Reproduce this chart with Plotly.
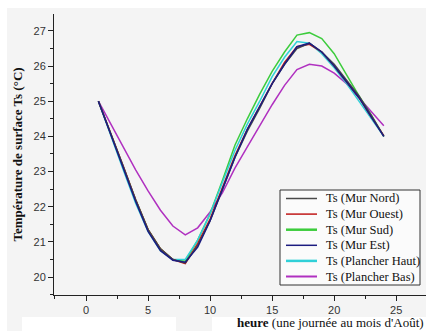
import plotly.graph_objects as go

heures = list(range(1, 25))
nord = [25.0, 24.1, 23.15, 22.2, 21.35, 20.8, 20.5, 20.4, 20.9, 21.6, 22.5, 23.4,
        24.15, 24.8, 25.5, 26.05, 26.5, 26.65, 26.4, 26.05, 25.6, 25.15, 24.6, 24.0]
ouest = [25.0, 24.1, 23.15, 22.2, 21.35, 20.8, 20.5, 20.38, 20.95, 21.65, 22.55, 23.45,
         24.2, 24.85, 25.5, 26.1, 26.55, 26.62, 26.4, 26.0, 25.55, 25.1, 24.55, 24.02]
sud = [25.0, 24.05, 23.1, 22.2, 21.35, 20.8, 20.5, 20.45, 21.05, 21.8, 22.75, 23.75,
       24.5, 25.2, 25.85, 26.4, 26.88, 26.95, 26.78, 26.35, 25.75, 25.15, 24.6, 24.0]
est = [25.0, 24.05, 23.1, 22.15, 21.3, 20.75, 20.48, 20.42, 20.85, 21.6, 22.5, 23.4,
       24.2, 24.85, 25.5, 26.05, 26.55, 26.65, 26.4, 26.0, 25.55, 25.1, 24.55, 24.0]
haut = [25.0, 24.0, 23.05, 22.1, 21.3, 20.75, 20.5, 20.5, 21.05, 21.8, 22.7, 23.6,
        24.35, 25.0, 25.7, 26.25, 26.7, 26.65, 26.35, 25.95, 25.5, 25.0, 24.5, 24.0]
bas = [25.0, 24.35, 23.7, 23.05, 22.45, 21.9, 21.45, 21.2, 21.4, 21.85, 22.4, 23.1,
       23.7, 24.3, 24.9, 25.45, 25.9, 26.05, 26.0, 25.8, 25.5, 25.1, 24.7, 24.3]

names = ["Ts (Mur Nord)", "Ts (Mur Ouest)", "Ts (Mur Sud)", "Ts (Mur Est)",
         "Ts (Plancher Haut)", "Ts (Plancher Bas)"]
values = [nord, ouest, sud, est, haut, bas]
colors = ["#4a4a4a", "#c01818", "#3ccc3c", "#1c1c80", "#30d0d8", "#b030c0"]
legend_widths = [1.5, 1.5, 2.5, 1.5, 2.5, 2.0]
draw_order = [5, 2, 4, 1, 0, 3]

fig = go.Figure()
for i in draw_order:
    fig.add_trace(go.Scatter(x=heures, y=values[i], mode="lines", name=names[i],
                             line=dict(color=colors[i], width=1.5), showlegend=False))

W, H = 426, 331
L, R, T, B = 54, 0, 14, 36
pw, ph = W - L - R, H - T - B

def px2x(p):
    return (p - L) / pw

def py2y(p):
    return (H - B - p) / ph

tickfont = dict(family="Arial, Liberation Sans", size=11, color="#333333")
serif = "Times New Roman, Liberation Serif"

shapes = [
    dict(type="rect", xref="paper", yref="paper", x0=-L / pw, x1=1.01,
         y0=py2y(8), y1=py2y(-2), fillcolor="white", line=dict(width=0), layer="below"),
    dict(type="rect", xref="paper", yref="paper", x0=-L / pw - 0.01, x1=px2x(7),
         y0=py2y(332), y1=py2y(-2), fillcolor="white", line=dict(width=0), layer="below"),
    dict(type="rect", xref="paper", yref="paper", x0=px2x(22), x1=px2x(176),
         y0=py2y(332), y1=py2y(317), fillcolor="white", line=dict(width=0), layer="below"),
    dict(type="rect", xref="paper", yref="paper", x0=px2x(212), x1=1.01,
         y0=py2y(332), y1=py2y(317), fillcolor="white", line=dict(width=0), layer="below"),
    # legend box
    dict(type="rect", xref="paper", yref="paper", x0=px2x(280), x1=px2x(420),
         y0=py2y(285), y1=py2y(190), fillcolor="#fbfbfb",
         line=dict(color="#333", width=1), layer="above"),
]
annotations = [
    dict(text="<b>heure</b> (une journée au mois d'Août)", xref="paper", yref="paper",
         x=1, y=py2y(322), xanchor="right", yanchor="middle", showarrow=False,
         font=dict(family=serif, size=13, color="#111")),
]
for k in range(len(names)):
    yc = 198.5 + 15.6 * k
    shapes.append(dict(type="line", xref="paper", yref="paper",
                       x0=px2x(286), x1=px2x(317), y0=py2y(yc), y1=py2y(yc),
                       line=dict(color=colors[k], width=legend_widths[k]), layer="above"))
    annotations.append(dict(text=names[k], xref="paper", yref="paper",
                            x=px2x(324), y=py2y(yc), xanchor="left", yanchor="middle",
                            showarrow=False,
                            font=dict(family=serif, size=12.5, color="#111")))

fig.update_layout(
    width=W, height=H,
    margin=dict(l=L, r=R, t=T, b=B),
    paper_bgcolor="#f4f4f4", plot_bgcolor="#f4f4f4",
    xaxis=dict(range=[-2.58, 27.4], tickvals=[0, 5, 10, 15, 20, 25],
               showgrid=False, zeroline=False, showline=True, linecolor="#222",
               linewidth=1, ticks="outside", ticklen=5, tickcolor="#222",
               tickfont=tickfont,
               minor=dict(ticks="outside", dtick=2.5, tick0=0, ticklen=3, tickcolor="#222")),
    yaxis=dict(range=[19.49, 27.48], tickvals=[20, 21, 22, 23, 24, 25, 26, 27],
               showgrid=False, zeroline=False, showline=True, linecolor="#222",
               linewidth=1, ticks="outside", ticklen=5, tickcolor="#222",
               tickfont=tickfont,
               title=dict(text="<b>Température de surface Ts (°C)</b>",
                          font=dict(family=serif, size=13, color="#111"), standoff=7),
               minor=dict(ticks="outside", dtick=0.5, tick0=0, ticklen=3, tickcolor="#222")),
    showlegend=False,
    shapes=shapes,
    annotations=annotations,
)

fig.write_html("out.html")
